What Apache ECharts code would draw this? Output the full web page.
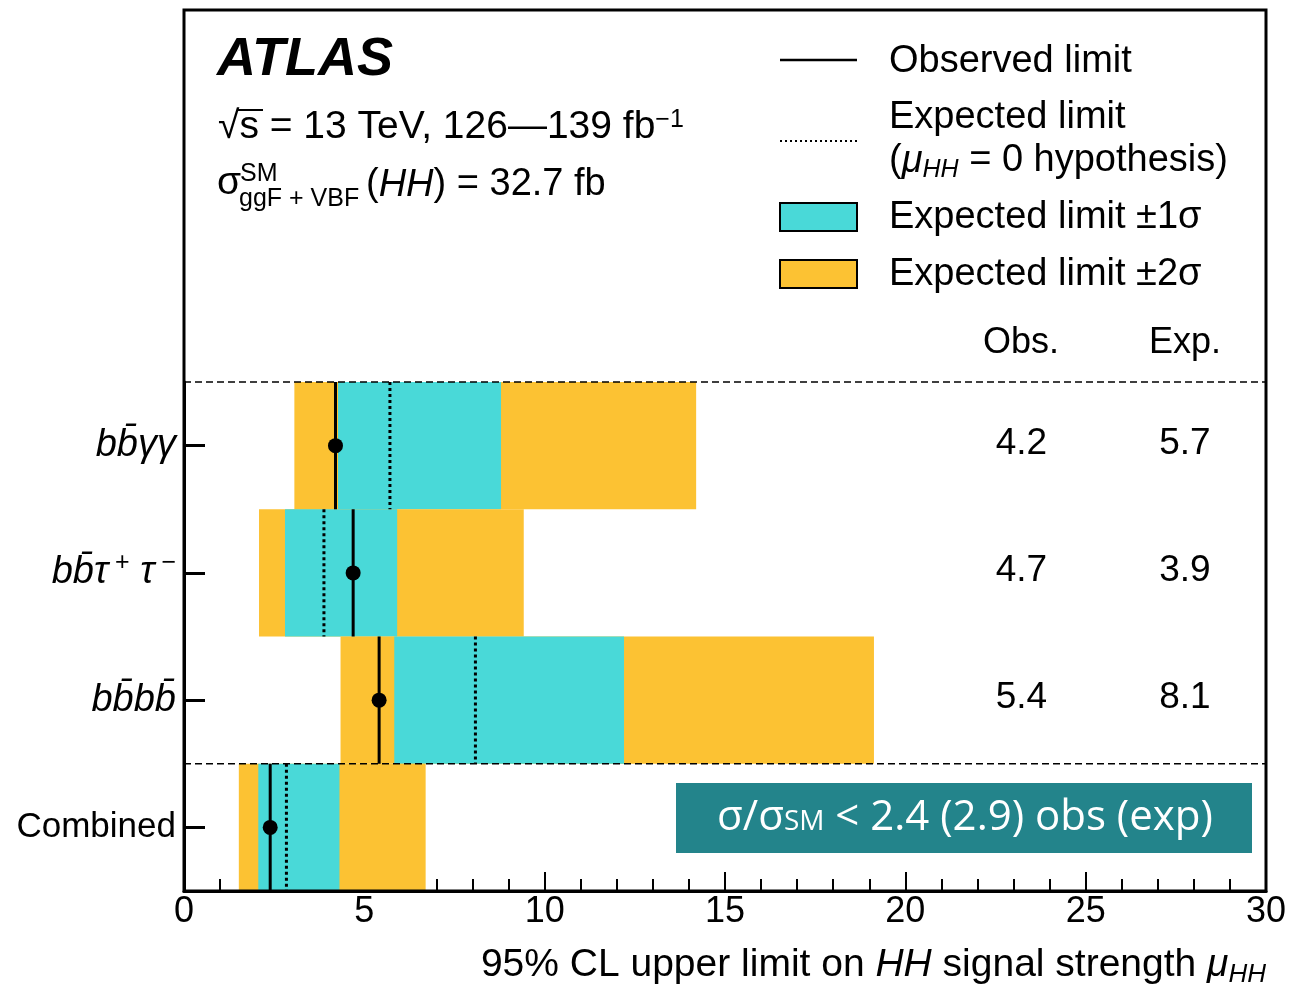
<!DOCTYPE html>
<html>
<head>
<meta charset="utf-8">
<script src="https://cdn.jsdelivr.net/npm/echarts@6/dist/echarts.min.js"></script>
<style>
html,body{margin:0;padding:0;background:#fff;}
#chart{width:1289px;height:986px;}
</style>
</head>
<body>
<div id="chart"></div>
<script>
// ---- data ----
const categories = ['bb̄γγ', 'bb̄τ⁺τ⁻', 'bb̄bb̄', 'Combined'];
const observed = [4.2, 4.69, 5.41, 2.39];
const expected = [5.71, 3.88, 8.08, 2.84];
const oneSigmaLow = [4.27, 2.80, 5.83, 2.06];
const oneSigmaHigh = [8.79, 5.91, 12.2, 4.31];
const twoSigmaLow = [3.06, 2.08, 4.34, 1.52];
const twoSigmaHigh = [14.2, 9.42, 19.13, 6.70];
const tableObs = ['4.2', '4.7', '5.4'];
const tableExp = ['5.7', '3.9', '8.1'];
const separatorRows = [0, 3];
const xTickMin = 0, xTickMax = 30, xTickStep = 5;

// ---- style ----
const CYAN = '#49D9D8';
const ORANGE = '#FCC233';
const TEAL = '#23848B';
const FONT = '"Liberation Sans", Helvetica, Arial, sans-serif';
const BOXFONT = '"Open Sans", Lato, sans-serif';
const OBS_COL = 23.22, EXP_COL = 27.75; // column positions in axis units

const chart = echarts.init(document.getElementById('chart'), null, {renderer: 'canvas'});

const labelRich = {
  i: {fontFamily: FONT, fontStyle: 'italic', fontSize: 38, color: '#000', lineHeight: 44},
  n: {fontFamily: FONT, fontSize: 35, color: '#000', lineHeight: 44},
  sup: {fontFamily: FONT, fontSize: 25, color: '#000', verticalAlign: 'top', lineHeight: 30}
};
const labelMap = {
  'bb̄γγ': '{i|bb̄γγ}',
  'bb̄τ⁺τ⁻': '{i|bb̄τ}{sup| +}{i| τ}{sup| −}',
  'bb̄bb̄': '{i|bb̄bb̄}',
  'Combined': '{n|Combined}'
};

function bandItem(params, api) {
  const idx = api.value(0);
  const h = api.size([0, 1])[1];
  const a = api.coord([api.value(1), idx]);
  const b = api.coord([api.value(2), idx]);
  const c = api.coord([api.value(3), idx]);
  const d = api.coord([api.value(4), idx]);
  return {type: 'group', children: [
    {type: 'rect', shape: {x: a[0], y: a[1] - h / 2, width: b[0] - a[0], height: h}, style: {fill: ORANGE}},
    {type: 'rect', shape: {x: c[0], y: c[1] - h / 2, width: d[0] - c[0], height: h}, style: {fill: CYAN}}
  ]};
}
function limitItem(params, api) {
  const idx = api.value(0);
  const h = api.size([0, 1])[1];
  const o = api.coord([api.value(1), idx]);
  const e = api.coord([api.value(2), idx]);
  return {type: 'group', children: [
    {type: 'line', shape: {x1: e[0], y1: e[1] - h / 2, x2: e[0], y2: e[1] + h / 2},
      style: {stroke: '#000', lineWidth: 3, lineDash: [3, 3]}},
    {type: 'line', shape: {x1: o[0], y1: o[1] - h / 2, x2: o[0], y2: o[1] + h / 2},
      style: {stroke: '#000', lineWidth: 3}},
    {type: 'circle', shape: {cx: o[0], cy: o[1], r: 7.5}, style: {fill: '#000'}}
  ]};
}
function sepItem(params, api) {
  const idx = api.value(0);
  const h = api.size([0, 1])[1];
  const p0 = api.coord([xTickMin, idx]);
  const p1 = api.coord([xTickMax, idx]);
  return {type: 'line', shape: {x1: p0[0], y1: p0[1] - h / 2, x2: p1[0], y2: p1[1] - h / 2},
    style: {stroke: '#000', lineWidth: 1.5, lineDash: [7, 4]}};
}
function tableItem(params, api) {
  const idx = api.value(0);
  const o = api.coord([OBS_COL, idx]);
  const e = api.coord([EXP_COL, idx]);
  const st = {fontSize: 37, fontFamily: FONT, fill: '#000', textAlign: 'center', textVerticalAlign: 'middle'};
  return {type: 'group', children: [
    {type: 'text', style: Object.assign({text: tableObs[params.dataIndex], x: o[0], y: o[1] - 2}, st)},
    {type: 'text', style: Object.assign({text: tableExp[params.dataIndex], x: e[0], y: e[1] - 2}, st)}
  ]};
}

const T = (text, x, y, extra) => Object.assign({type: 'text', z: 100,
  style: Object.assign({text: text, x: x, y: y, fill: '#000', textVerticalAlign: 'middle',
    font: '38px ' + FONT}, extra || {})});

const option = {
  animation: false,
  backgroundColor: '#fff',
  grid: [
    {left: 184, top: 10, width: 1082, height: 881, show: true, borderColor: '#000', borderWidth: 3,
      backgroundColor: 'transparent', z: 10, containLabel: false, outerBoundsMode: 'none'},
    {left: 184, top: 382, width: 1082, height: 509, containLabel: false, outerBoundsMode: 'none'}
  ],
  xAxis: [
    {gridIndex: 0, type: 'value', min: 0, max: 1, show: false},
    {gridIndex: 1, type: 'value', min: xTickMin, max: xTickMax, interval: xTickStep,
      axisLine: {show: true, lineStyle: {color: '#000', width: 3}},
      axisTick: {show: true, inside: true, length: 19, lineStyle: {color: '#000', width: 2}},
      minorTick: {show: true, splitNumber: 5, length: 12, lineStyle: {color: '#000', width: 2}},
      splitLine: {show: false}, minorSplitLine: {show: false},
      axisLabel: {color: '#000', fontSize: 36, fontFamily: FONT, margin: 3, showMinLabel: true, showMaxLabel: true}
    }
  ],
  yAxis: [
    {gridIndex: 0, type: 'value', min: 0, max: 1, show: false},
    {gridIndex: 1, type: 'category', data: categories, inverse: true,
      axisLine: {show: true, lineStyle: {color: '#000', width: 3}},
      axisTick: {show: true, inside: true, alignWithLabel: true, length: 21, lineStyle: {color: '#000', width: 3}},
      splitLine: {show: false},
      axisLabel: {margin: 8, formatter: v => labelMap[v], rich: labelRich}
    }
  ],
  series: [
    {type: 'custom', xAxisIndex: 1, yAxisIndex: 1, renderItem: bandItem, z: 2,
      encode: {y: 0, x: [1, 2, 3, 4]},
      data: categories.map((c, i) => [c, twoSigmaLow[i], twoSigmaHigh[i], oneSigmaLow[i], oneSigmaHigh[i]])},
    {type: 'custom', xAxisIndex: 1, yAxisIndex: 1, renderItem: sepItem, z: 3,
      encode: {y: 0, x: 1},
      data: separatorRows.map(i => [categories[i], xTickMin])},
    {type: 'custom', xAxisIndex: 1, yAxisIndex: 1, renderItem: limitItem, z: 4,
      encode: {y: 0, x: [1, 2]},
      data: categories.map((c, i) => [c, observed[i], expected[i]])},
    {type: 'custom', xAxisIndex: 1, yAxisIndex: 1, renderItem: tableItem, z: 4,
      encode: {y: 0},
      data: tableObs.map((v, i) => [categories[i]])}
  ],
  graphic: [
    T('ATLAS', 217, 60, {font: 'italic bold 54px ' + FONT}),
    T('√s = 13 TeV, 126—139 fb{sup|−1}', 218, 127, {font: '39px ' + FONT,
      rich: {sup: {fontSize: 25, fontFamily: FONT, verticalAlign: 'top', lineHeight: 26}}}),
    {type: 'line', z: 100, shape: {x1: 238, y1: 110, x2: 263, y2: 110}, style: {stroke: '#000', lineWidth: 2}},
    T('σ', 217, 183, {font: '39px ' + FONT}),
    T('SM', 240, 174, {font: '25px ' + FONT}),
    T('ggF + VBF', 239, 199, {font: '25px ' + FONT}),
    T('({i|HH}) = 32.7 fb', 366, 185, {font: '38px ' + FONT,
      rich: {i: {fontStyle: 'italic', fontSize: 38, fontFamily: FONT}}}),
    // legend
    {type: 'line', z: 100, shape: {x1: 780, y1: 60, x2: 857, y2: 60}, style: {stroke: '#000', lineWidth: 2.5}},
    T('Observed limit', 889, 62),
    {type: 'line', z: 100, shape: {x1: 780, y1: 141, x2: 857, y2: 141}, style: {stroke: '#000', lineWidth: 2, lineDash: [2, 3]}},
    T('Expected limit', 889, 118),
    T('({i|μ}{sub|HH} = 0 hypothesis)', 889, 161, {
      rich: {i: {fontStyle: 'italic', fontSize: 38, fontFamily: FONT, lineHeight: 44},
             sub: {fontStyle: 'italic', fontSize: 25, fontFamily: FONT, verticalAlign: 'bottom', lineHeight: 34}}}),
    {type: 'rect', z: 100, shape: {x: 780, y: 203, width: 77, height: 28}, style: {fill: CYAN, stroke: '#000', lineWidth: 2}},
    T('Expected limit ±1σ', 889, 218),
    {type: 'rect', z: 100, shape: {x: 780, y: 260, width: 77, height: 28}, style: {fill: ORANGE, stroke: '#000', lineWidth: 2}},
    T('Expected limit ±2σ', 889, 275),
    // table header
    T('Obs.', 1021, 343, {font: '36px ' + FONT, textAlign: 'center'}),
    T('Exp.', 1185, 343, {font: '36px ' + FONT, textAlign: 'center'}),
    // x axis title
    T('95% CL upper limit on {i|HH} signal strength {i|μ}{sub|HH}', 1266, 965, {textAlign: 'right',
      font: '39px ' + FONT,
      rich: {i: {fontSize: 39, fontStyle: 'italic', fontFamily: FONT, lineHeight: 46},
             sub: {fontSize: 26, fontStyle: 'italic', fontFamily: FONT, verticalAlign: 'bottom', lineHeight: 36}}}),
    // result box
    {type: 'rect', z: 100, shape: {x: 676, y: 783, width: 576, height: 70}, style: {fill: TEAL}},
    T('{a|σ/σ}{b|SM}{a| < 2.4 (2.9) obs (exp)}', 965, 818, {textAlign: 'center', fill: '#fff',
      font: '42px ' + BOXFONT,
      rich: {a: {fontFamily: BOXFONT, fontSize: 42, color: '#fff', lineHeight: 46},
             b: {fontFamily: BOXFONT, fontSize: 28, color: '#fff', verticalAlign: 'middle', lineHeight: 46, padding: [9, 0, 0, 0]}}})
  ]
};
chart.setOption(option);
</script>
</body>
</html>
